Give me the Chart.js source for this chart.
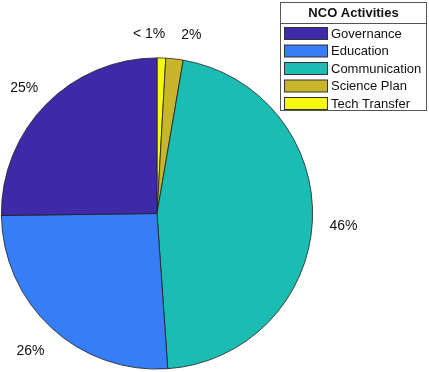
<!DOCTYPE html>
<html>
<head>
<meta charset="utf-8">
<script src="https://cdn.jsdelivr.net/npm/chart.js@4"></script>
<style>
    html, body { margin: 0; padding: 0; background: #fff; }
    #wrap { position: relative; width: 429px; height: 372px; }
</style>
</head>
<body>
<div id="wrap"><canvas id="ncoChart" width="429" height="372"></canvas></div>
<script>
// Legend order (as in the reference legend box)
const categories = ['Governance', 'Education', 'Communication', 'Science Plan', 'Tech Transfer'];
const shares = [25.2, 25.9, 46.2, 1.8, 0.9];
const shareLabels = ['25%', '26%', '46%', '2%', '< 1%'];
const sliceColors = ['#3E2AA6', '#367EF6', '#1BBCB2', '#C8B52C', '#F7F80F'];
const legendTitle = 'NCO Activities';

// Pie is drawn clockwise from the top: reverse the legend order
const pieLabels = categories.slice().reverse();
const pieValues = shares.slice().reverse();
const pieColors = sliceColors.slice().reverse();
const pieText = shareLabels.slice().reverse();

const FONT = '"Liberation Sans", Arial, sans-serif';

// Percent labels outside the slices
const outsideLabels = {
    id: 'outsideLabels',
    afterDatasetsDraw(chart) {
        const ctx = chart.ctx;
        const arcs = chart.getDatasetMeta(0).data;
        ctx.save();
        ctx.font = '14px ' + FONT;
        const items = arcs.map((arc, i) => {
            const p = arc.getProps(['x', 'y', 'startAngle', 'endAngle', 'outerRadius'], true);
            const mid = (p.startAngle + p.endAngle) / 2;
            return {
                text: pieText[i],
                x: p.x + Math.cos(mid) * p.outerRadius * 1.2,
                y: p.y + Math.sin(mid) * p.outerRadius * 1.175 + 3,
                w: ctx.measureText(pieText[i]).width
            };
        });
        // push apart labels of tiny neighbouring slices
        for (let i = 0; i < items.length; i++) {
            for (let j = i + 1; j < items.length; j++) {
                const a = items[i], b = items[j];
                if (Math.abs(a.y - b.y) > 14) continue;
                const need = (a.w + b.w) / 2 + 16;
                const d = Math.abs(a.x - b.x);
                if (d < need) {
                    const shift = (need - d) / 2;
                    if (a.x <= b.x) { a.x -= shift; b.x += shift; } else { a.x += shift; b.x -= shift; }
                }
            }
        }
        ctx.fillStyle = '#111';
        ctx.textAlign = 'center';
        ctx.textBaseline = 'middle';
        items.forEach(it => ctx.fillText(it.text, it.x, it.y));
        ctx.restore();
    }
};

// MATLAB-style boxed legend in the top right corner
const boxLegend = {
    id: 'boxLegend',
    afterDraw(chart) {
        const ctx = chart.ctx;
        const left = 280.5, top = 2.5, w = 146, h = 108;
        ctx.save();
        ctx.fillStyle = '#fff';
        ctx.fillRect(left, top, w, h);
        ctx.strokeStyle = '#555';
        ctx.lineWidth = 1;
        ctx.strokeRect(left, top, w, h);
        ctx.beginPath();
        ctx.moveTo(left, 23.5);
        ctx.lineTo(left + w, 23.5);
        ctx.stroke();

        ctx.fillStyle = '#111';
        ctx.textBaseline = 'middle';
        ctx.textAlign = 'center';
        ctx.font = 'bold 13px ' + FONT;
        ctx.fillText(legendTitle, 353.5, 13.5);

        ctx.textAlign = 'left';
        ctx.font = '13px ' + FONT;
        categories.forEach((name, i) => {
            const y = 27.5 + i * 17.5;
            ctx.fillStyle = sliceColors[i];
            ctx.fillRect(284.5, y, 43, 12);
            ctx.strokeStyle = '#333';
            ctx.strokeRect(284.5, y, 43, 12);
            ctx.fillStyle = '#111';
            ctx.fillText(name, 331, y + 6.5);
        });
        ctx.restore();
    }
};

const ctx = document.getElementById('ncoChart').getContext('2d');
new Chart(ctx, {
    type: 'pie',
    data: {
        labels: pieLabels,
        datasets: [{
            data: pieValues,
            backgroundColor: pieColors,
            borderColor: '#1e1e1e',
            borderWidth: 0.8
        }]
    },
    options: {
        responsive: false,
        animation: false,
        rotation: 0,
        layout: { padding: { left: 1, top: 57.5, right: 116, bottom: 2.5 } },
        plugins: {
            legend: { display: false },
            tooltip: { enabled: false }
        }
    },
    plugins: [outsideLabels, boxLegend]
});
</script>
</body>
</html>
